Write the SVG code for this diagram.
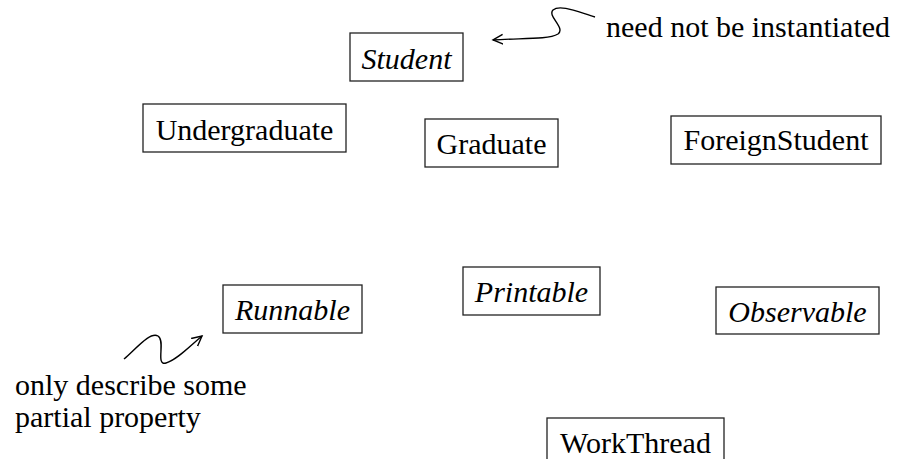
<svg xmlns="http://www.w3.org/2000/svg" width="922" height="459" viewBox="0 0 922 459">
<style>
text{font-family:"Liberation Serif","Times New Roman",serif;font-size:30px;fill:#000}
.c{text-anchor:middle}
.i{font-style:italic}
.box{fill:#fff;stroke:#222;stroke-width:1.3}
.ln{fill:none;stroke:#000;stroke-width:1.4}
</style>
<defs>
<marker id="ah" markerWidth="12" markerHeight="12" refX="10" refY="5" orient="auto" markerUnits="userSpaceOnUse" viewBox="0 0 12 10">
<path d="M0,0 L10,5 L0,10" fill="none" stroke="#000" stroke-width="1.4"/>
</marker>
</defs>
<rect width="922" height="459" fill="#fff"/>
<g id="student"><rect class="box" x="350" y="33" width="113" height="48"/><text class="c i" x="406.5" y="69">Student</text></g>
<g id="undergraduate"><rect class="box" x="143" y="104" width="203" height="48"/><text class="c" x="244.5" y="140">Undergraduate</text></g>
<g id="graduate"><rect class="box" x="425" y="119" width="133" height="48"/><text class="c" x="491.5" y="154">Graduate</text></g>
<g id="foreignstudent"><rect class="box" x="671" y="116" width="210" height="48"/><text class="c" x="776" y="150">ForeignStudent</text></g>
<g id="runnable"><rect class="box" x="223" y="285" width="139" height="48"/><text class="c i" x="292.5" y="320">Runnable</text></g>
<g id="printable"><rect class="box" x="463" y="267" width="137" height="48"/><text class="c i" x="531.5" y="302">Printable</text></g>
<g id="observable"><rect class="box" x="716" y="287" width="163" height="47"/><text class="c i" x="797.5" y="322">Observable</text></g>
<g id="workthread"><rect class="box" x="547" y="418" width="177" height="60"/><text class="c" x="635.5" y="453">WorkThread</text></g>
<g id="note-abstract"><text x="606" y="37">need not be instantiated</text></g>
<g id="note-interface"><text x="15" y="395">only describe some</text><text x="15" y="427">partial property</text></g>
<g id="connectors">
<path class="ln" marker-end="url(#ah)" d="M595 17 C578 12 560 4 553 10 C547 16 566 28 558 34 C548 40 520 38 493 40"/>
<path class="ln" marker-end="url(#ah)" d="M124 359 C135 350 150 331 158 336 C166 341 155 366 166 363 C177 360 190 346 202 336"/>
</g>
</svg>
